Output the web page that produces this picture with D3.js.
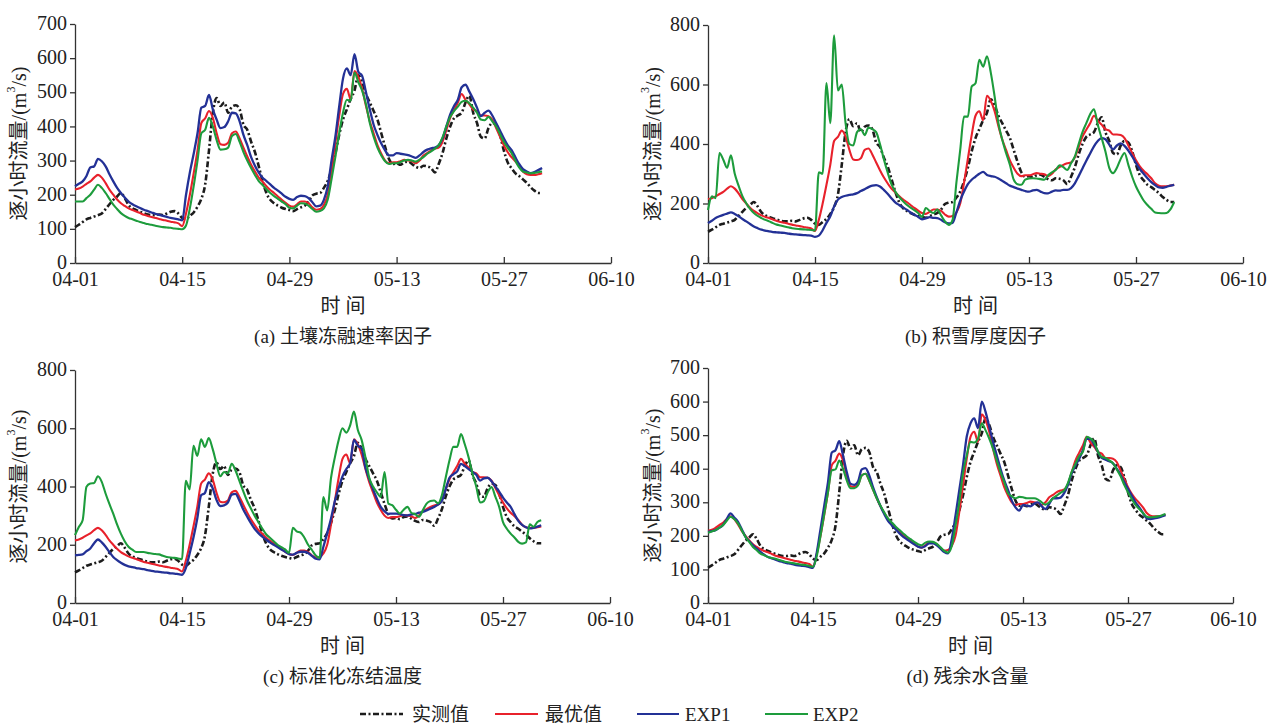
<!DOCTYPE html>
<html>
<head>
<meta charset="utf-8">
<script src="https://cdn.jsdelivr.net/npm/d3@7"></script>
<style>
  body { margin: 0; background: #fff; }
  svg text { font-family: "Liberation Serif", "Noto Sans CJK SC", serif; fill: #222; }
  .tick text { font-size: 20px; font-family: "Liberation Serif", serif; }
  .domain, .tick line { stroke: #333; stroke-width: 1.3; }
</style>
</head>
<body>
<svg id="chart" width="1280" height="728"></svg>
<script>
// x axis: days since 04-01, samples every half day
const stepDays = 0.5;
const tickDays = [0, 14, 28, 42, 56, 70];
const tickLabels = ["04-01", "04-15", "04-29", "05-13", "05-27", "06-10"];

const captions = ["(a) 土壤冻融速率因子", "(b) 积雪厚度因子", "(c) 标准化冻结温度", "(d) 残余水含量"];
const legendNames = ["实测值", "最优值", "EXP1", "EXP2"];

// observed flow, same in all panels
const observed = [105,112,120,128,132,136,140,145,158,172,185,195,205,190,170,160,155,150,146,142,140,140,142,140,145,150,152,145,
  132,128,138,148,165,188,230,330,440,483,460,470,440,458,462,450,405,390,355,325,283,240,205,185,175,168,162,158,155,152,158,163,168,180,198,203,
  205,220,240,275,320,375,420,450,480,505,550,530,495,470,445,420,380,340,305,290,292,288,295,297,290,282,278,285,283,278,
  265,290,322,365,400,424,432,440,470,490,440,410,370,365,395,410,405,375,330,295,278,263,255,245,235,222,212,205,205];

// best parameter set, same in all panels
const best = [215,218,224,232,239,250,258,250,234,215,200,186,175,167,160,155,151,146,141,138,135,132,129,126,124,121,119,116,
  108,145,200,263,330,410,424,445,425,380,348,346,352,380,385,365,338,312,288,268,250,238,225,214,205,195,185,176,168,165,172,180,180,175,163,156,
  158,170,200,270,350,430,495,510,480,562,545,510,460,415,380,345,320,300,292,295,295,298,302,300,298,292,300,315,322,330,
  335,338,355,390,425,448,470,495,478,465,450,445,432,432,430,420,395,370,345,325,310,298,285,268,260,258,258,260,263];

// (a) soil freeze-thaw rate factor
const expA1 = [225,232,239,255,280,283,305,298,283,260,239,220,205,192,180,172,166,161,156,152,148,144,141,138,135,132,130,128,
  125,200,265,320,380,455,460,492,450,420,395,398,415,440,438,415,375,345,310,285,265,250,240,230,220,212,203,194,188,185,193,197,196,190,178,166,
  168,185,224,300,370,458,540,570,550,612,560,548,500,450,405,375,350,330,315,315,322,320,318,316,312,308,315,325,332,336,
  338,345,365,400,435,460,478,515,522,502,480,455,430,440,446,432,410,388,365,345,331,310,290,275,268,263,266,272,278];
const expA2 = [180,180,180,190,200,215,229,220,205,188,171,158,146,138,132,128,124,120,117,114,112,109,107,105,104,103,101,100,
  99,110,160,225,300,380,390,425,400,360,332,333,338,372,378,355,325,300,278,258,240,228,216,205,196,188,180,172,162,160,168,175,174,168,158,150,
  152,160,185,245,310,380,440,478,475,558,530,505,465,410,370,338,315,298,290,292,292,296,300,302,300,297,303,310,320,327,
  335,345,368,400,428,445,458,472,475,468,455,440,420,418,428,415,400,378,355,338,322,300,280,268,265,263,264,266,268];

// (b) snow depth factor
const expB1 = [134,142,151,157,162,166,170,165,157,148,140,131,123,117,112,109,106,104,103,102,101,99,97,96,95,94,93,92,
  88,92,110,135,157,190,213,222,226,229,231,235,242,248,255,260,262,257,246,233,218,204,195,187,179,170,162,155,147,150,154,152,151,145,137,133,
  135,170,210,240,265,280,290,300,306,296,292,290,284,276,268,260,255,250,246,242,240,244,246,240,235,234,240,244,243,246,
  246,252,268,292,318,344,368,392,410,420,416,398,382,395,402,394,378,358,336,316,300,285,272,262,254,253,256,260,263];
const expB2 = [178,224,218,370,347,320,362,300,260,225,201,182,168,158,151,145,140,134,129,126,123,120,117,115,114,113,112,111,
  109,305,300,605,470,765,580,600,470,400,395,440,450,430,455,450,440,400,350,305,265,240,222,208,196,186,178,168,155,185,175,168,180,160,140,128,
  145,270,380,492,492,593,604,683,660,695,640,560,470,414,370,330,280,265,263,280,284,285,284,282,280,295,305,313,328,322,
  313,335,358,400,440,470,500,517,465,420,375,320,302,320,350,370,330,290,257,232,210,195,182,170,168,167,168,180,205];

// (c) normalised freezing temperature
const expC1 = [164,165,167,178,187,205,218,208,193,175,158,147,138,131,126,123,120,118,116,113,110,108,107,105,104,102,101,99,
  97,120,170,225,290,370,378,415,395,355,333,335,345,372,375,352,322,298,275,255,240,228,218,208,200,192,184,176,168,166,172,176,176,172,162,152,
  150,193,240,290,350,395,435,460,480,560,540,530,465,425,390,358,330,315,306,307,307,305,302,301,304,306,310,313,318,324,
  330,338,350,390,430,442,452,478,470,460,450,440,420,428,430,418,400,382,362,345,330,305,282,268,260,256,258,262,267];
const expC2 = [233,261,284,399,410,412,435,416,376,340,307,270,238,212,193,183,175,175,175,172,170,168,167,162,158,156,155,153,
  150,420,390,540,505,562,536,566,530,480,435,450,445,478,455,420,385,352,325,300,278,256,236,224,212,200,192,184,172,258,246,242,225,200,182,163,
  155,364,318,430,500,560,600,585,610,657,595,560,500,430,400,380,364,450,341,336,320,307,320,330,310,305,296,318,341,350,
  352,342,370,430,490,536,536,580,545,500,445,400,345,350,380,398,365,330,278,255,238,225,210,204,208,270,262,278,284];

// (d) residual water content
const expD1 = [212,214,217,224,232,250,267,255,242,220,197,184,172,162,152,144,137,133,129,125,122,119,117,114,112,111,110,107,
  105,150,220,290,360,448,455,482,440,390,355,352,362,398,402,380,345,315,288,265,245,232,220,208,198,190,182,175,168,165,170,178,178,172,162,152,
  148,190,260,335,410,496,535,550,521,600,570,525,480,440,400,365,337,305,285,275,292,290,288,296,300,288,280,295,312,312,
  314,328,352,386,410,430,456,490,488,472,450,432,427,422,416,400,382,360,340,320,300,285,268,252,250,252,254,258,262];
const expD2 = [209,213,217,224,232,245,257,250,237,217,197,182,167,157,147,142,137,134,132,128,125,122,120,118,116,114,113,110,
  108,140,200,265,330,395,398,424,400,365,342,342,350,380,385,365,338,312,290,270,252,240,228,218,208,198,190,182,175,172,180,183,182,176,166,155,
  150,170,230,300,386,440,480,478,490,535,515,490,460,425,390,360,327,318,312,316,315,312,312,312,308,300,293,300,312,320,
  328,336,358,391,415,438,451,495,490,478,450,435,432,425,416,398,378,352,330,310,292,280,268,257,255,256,258,261,265];

const yMaxes = [700, 800, 800, 700];
const ySteps = [100, 200, 200, 100];

const svg = d3.select("#chart");

// layout of the four panels
const panels = [
  { x0: 75,  x1: 611,  yTop: 24,  yBot: 263, labX: 19,  exp1: expA1, exp2: expA2 },
  { x0: 708, x1: 1243, yTop: 25,  yBot: 263, labX: 653, exp1: expB1, exp2: expB2 },
  { x0: 75,  x1: 610,  yTop: 370, yBot: 603, labX: 19,  exp1: expC1, exp2: expC2 },
  { x0: 708, x1: 1233, yTop: 368, yBot: 603, labX: 653, exp1: expD1, exp2: expD2 }
];

const styles = [
  { color: "#1c1c1c", width: 2.6, dash: "6,2.5,2,2.5" },
  { color: "#e8212b", width: 2.1, dash: null },
  { color: "#233196", width: 2.3, dash: null },
  { color: "#1d9c3c", width: 2.1, dash: null }
];

const days = observed.map((v, i) => i * stepDays);

panels.forEach((p, k) => {
  const x = d3.scaleLinear().domain([0, 70]).range([p.x0, p.x1]);
  const y = d3.scaleLinear().domain([0, yMaxes[k]]).range([p.yBot, p.yTop]);
  const g = svg.append("g");

  g.append("g")
    .attr("transform", "translate(0," + p.yBot + ")")
    .call(d3.axisBottom(x)
      .tickValues(tickDays)
      .tickFormat((d, i) => tickLabels[i])
      .tickSizeInner(-6)
      .tickSizeOuter(0)
      .tickPadding(9));

  g.append("g")
    .attr("transform", "translate(" + p.x0 + ",0)")
    .call(d3.axisLeft(y)
      .tickValues(d3.range(0, yMaxes[k] + 1, ySteps[k]))
      .tickSizeInner(5)
      .tickSizeOuter(0)
      .tickPadding(3))
    .selectAll(".tick text")
    .attr("dy", "0.28em");

  const line = d3.line()
    .x((d, i) => x(days[i]))
    .y(d => y(d))
    .curve(d3.curveMonotoneX);

  [observed, best, p.exp1, p.exp2].forEach((s, j) => {
    g.append("path")
      .datum(s)
      .attr("d", line)
      .attr("fill", "none")
      .attr("stroke", styles[j].color)
      .attr("stroke-width", styles[j].width)
      .attr("stroke-dasharray", styles[j].dash)
      .attr("stroke-linejoin", "round");
  });

  // y label
  const ylab = g.append("text")
    .attr("transform", "translate(" + p.labX + "," + ((p.yTop + p.yBot) / 2) + ") rotate(-90)")
    .attr("text-anchor", "middle")
    .attr("dominant-baseline", "central")
    .attr("font-size", 20);
  ylab.append("tspan").text("逐小时流量/(m");
  ylab.append("tspan").text("3").attr("font-size", 12).attr("dy", -8);
  ylab.append("tspan").text("/s)").attr("dy", 8);

  const cx = (p.x0 + p.x1) / 2;
  g.append("text")
    .attr("x", cx).attr("y", p.yBot + 50)
    .attr("text-anchor", "middle")
    .attr("font-size", 20)
    .text("时 间");

  g.append("text")
    .attr("x", k == 3 ? cx - 3 : cx).attr("y", p.yBot + 80)
    .attr("text-anchor", "middle")
    .attr("font-size", 19)
    .text(captions[k]);
});

// legend
const legendPos = [
  { lx: 360, len: 43, tx: 412 },
  { lx: 495, len: 43, tx: 545 },
  { lx: 637, len: 42, tx: 685 },
  { lx: 765, len: 43, tx: 813 }
];
const legend = svg.append("g");
legendNames.forEach((name, j) => {
  const lp = legendPos[j];
  legend.append("line")
    .attr("x1", lp.lx).attr("x2", lp.lx + lp.len)
    .attr("y1", 714).attr("y2", 714)
    .attr("stroke", styles[j].color)
    .attr("stroke-width", j == 0 ? 2.4 : 2)
    .attr("stroke-dasharray", styles[j].dash);
  legend.append("text")
    .attr("x", lp.tx).attr("y", 721)
    .attr("font-size", 19)
    .text(name);
});
</script>
</body>
</html>
